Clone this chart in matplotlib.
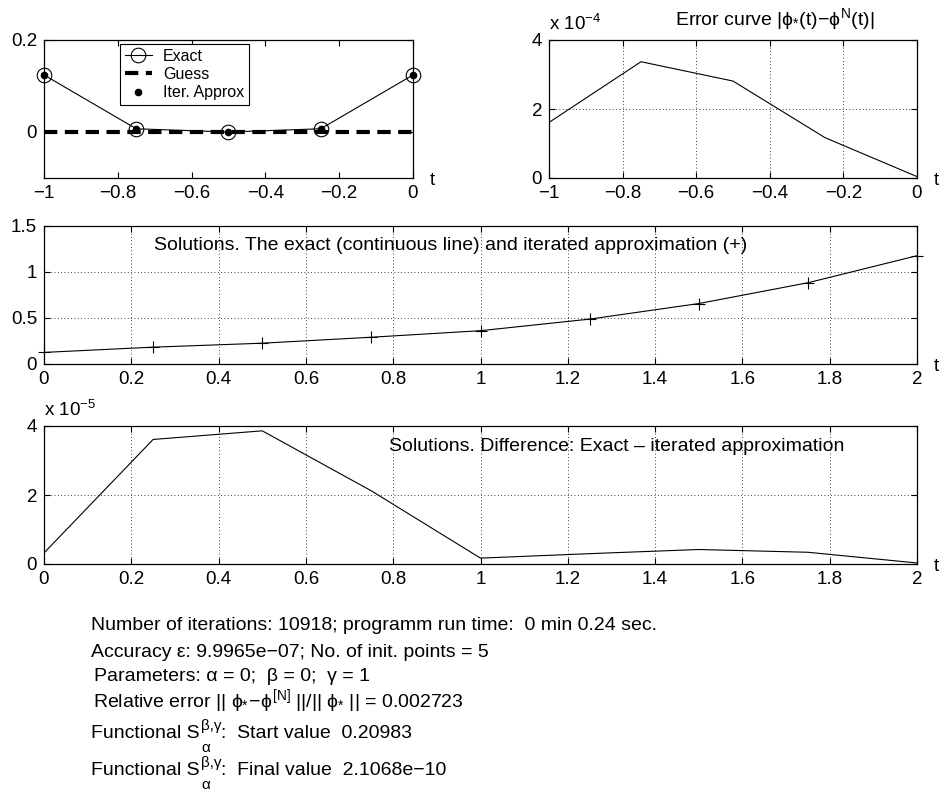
import matplotlib
matplotlib.use('Agg')
import matplotlib.pyplot as plt
import numpy as np

plt.rcParams['font.family'] = ['Liberation Sans', 'DejaVu Sans']
plt.rcParams['font.size'] = 13.5
plt.rcParams['mathtext.fontset'] = 'custom'
plt.rcParams['mathtext.rm'] = 'Liberation Sans'
plt.rcParams['mathtext.it'] = 'Liberation Sans'
plt.rcParams['mathtext.bf'] = 'Liberation Sans:bold'
plt.rcParams['mathtext.fallback'] = 'stixsans'
plt.rcParams['axes.unicode_minus'] = True

# --- data ---
t_left = [-1.0, -0.75, -0.5, -0.25, 0.0]
exact_left = [0.124, 0.007, 0.0, 0.007, 0.124]
guess_left = [0.0, 0.0, 0.0, 0.0, 0.0]
approx_left = [0.124, 0.007, 0.0, 0.007, 0.124]

err_left = [1.61, 3.37, 2.81, 1.17, 0.04]   # x 1e-4

t_sol = [0.0, 0.25, 0.5, 0.75, 1.0, 1.25, 1.5, 1.75, 2.0]
exact_sol = [0.126, 0.183, 0.226, 0.291, 0.362, 0.488, 0.657, 0.883, 1.177]
approx_sol = [0.126, 0.183, 0.226, 0.291, 0.362, 0.488, 0.657, 0.883, 1.177]
diff_sol = [0.32, 3.61, 3.86, 2.12, 0.17, 0.30, 0.42, 0.34, 0.03]   # x 1e-5

info_lines = [
	'Number of iterations: 10918; programm run time:  0 min 0.24 sec.',
	'Accuracy \u03b5: 9.9965e\u221207; No. of init. points = 5',
	'Parameters: \u03b1 = 0;  \u03b2 = 0;  \u03b3 = 1',
	r'Relative error || $\phi_{*}\!-\!\phi^{[\mathrm{N}]}$ ||/|| $\phi_{*}$ || = 0.002723',
]
info_x = [91, 91, 94, 93]
info_y = [630, 657, 681, 707]

func_tails = [':  Start value  0.20983', ':  Final value  2.1068e\u221210']
func_y = [738, 775]

W, H = 945, 795
fig = plt.figure(figsize=(W / 100.0, H / 100.0), dpi=100)


def px_axes(l, t, r, b):
	ax = fig.add_axes([l / W, 1 - b / H, (r - l) / W, (b - t) / H])
	ax.tick_params(direction='in', top=True, right=True, length=4, width=0.8, pad=5)
	for s in ax.spines.values():
		s.set_linewidth(0.9)
	return ax


def t_label(ax):
	ax.annotate('t', xy=(1, 0), xycoords='axes fraction', xytext=(14, -2),
		textcoords='offset points', va='center', ha='center')


def grid_dotted(ax):
	ax.grid(True, color='black', linestyle=(0, (1, 3)), linewidth=0.6)


# top left
ax1 = px_axes(44, 40, 413, 178)
ax1.plot(t_left, exact_left, color='black', linewidth=0.8, marker='o', markersize=10.5,
	fillstyle='none', markeredgewidth=0.8, label='Exact', clip_on=False)
ax1.plot(t_left, guess_left, color='black', linewidth=3, dashes=(3.2, 1.8), label='Guess')
ax1.plot(t_left, approx_left, 'k.', markersize=9, label='Iter. Approx', clip_on=False)
ax1.set_xlim(-1, 0)
ax1.set_ylim(-0.1, 0.2)
ax1.set_xticks([-1, -0.8, -0.6, -0.4, -0.2, 0])
ax1.set_xticklabels(['\u22121', '\u22120.8', '\u22120.6', '\u22120.4', '\u22120.2', '0'])
ax1.set_yticks([0, 0.2])
ax1.set_yticklabels(['0', '0.2'])
leg = ax1.legend(loc='upper left', bbox_to_anchor=(76 / 369.0, 1 - 4 / 138.0), fontsize=11.5,
	frameon=True, fancybox=False, edgecolor='black', framealpha=1, borderaxespad=0,
	borderpad=0.3, labelspacing=0.2, handlelength=1.7, handletextpad=0.7)
leg.get_frame().set_linewidth(0.8)
t_label(ax1)

# top right
ax2 = px_axes(549, 40, 917, 178)
ax2.plot(t_left, err_left, color='black', linewidth=0.8)
ax2.set_xlim(-1, 0)
ax2.set_ylim(0, 4)
ax2.set_xticks([-1, -0.8, -0.6, -0.4, -0.2, 0])
ax2.set_xticklabels(['\u22121', '\u22120.8', '\u22120.6', '\u22120.4', '\u22120.2', '0'])
ax2.set_yticks([0, 2, 4])
grid_dotted(ax2)
ax2.text(0, 1 + 10 / 138.0, r'x 10$^{-4}$', transform=ax2.transAxes, va='baseline', ha='left')
fig.text(675 / W, 1 - 25 / H, r'Error curve |$\phi_{*}$(t)$-\phi^{\mathrm{N}}$(t)|',
	va='baseline', ha='left', fontsize=14)
t_label(ax2)

# middle
ax3 = px_axes(44, 226, 917, 364)
ax3.plot(t_sol, exact_sol, color='black', linewidth=0.8)
ax3.plot(t_sol, approx_sol, 'k+', markersize=8, markeredgewidth=0.8, clip_on=False)
ax3.set_xlim(0, 2)
ax3.set_ylim(0, 1.5)
ax3.set_xticks(np.arange(0, 2.01, 0.2))
ax3.set_xticklabels(['0', '0.2', '0.4', '0.6', '0.8', '1', '1.2', '1.4', '1.6', '1.8', '2'])
ax3.set_yticks([0, 0.5, 1, 1.5])
ax3.set_yticklabels(['0', '0.5', '1', '1.5'])
grid_dotted(ax3)
ax3.text(0.253 / 2, 1.285, 'Solutions. The exact (continuous line) and iterated approximation (+)',
	transform=ax3.get_yaxis_transform(), va='center', ha='left', fontsize=14)
t_label(ax3)

# bottom
ax4 = px_axes(44, 426, 917, 564)
ax4.plot(t_sol, diff_sol, color='black', linewidth=0.8)
ax4.set_xlim(0, 2)
ax4.set_ylim(0, 4)
ax4.set_xticks(np.arange(0, 2.01, 0.2))
ax4.set_xticklabels(['0', '0.2', '0.4', '0.6', '0.8', '1', '1.2', '1.4', '1.6', '1.8', '2'])
ax4.set_yticks([0, 2, 4])
grid_dotted(ax4)
ax4.text(0, 1 + 10 / 138.0, r'x 10$^{-5}$', transform=ax4.transAxes, va='baseline', ha='left')
ax4.text(0.79 / 2, 3.42, 'Solutions. Difference: Exact \u2013 iterated approximation',
	transform=ax4.get_yaxis_transform(), va='center', ha='left', fontsize=14)
t_label(ax4)

# info text block
for txt, x, y in zip(info_lines, info_x, info_y):
	fig.text(x / W, 1 - y / H, txt, va='baseline', ha='left', fontsize=14)

# functional lines: S with stacked beta,gamma / alpha
renderer = fig.canvas.get_renderer()
for tail, y in zip(func_tails, func_y):
	head = fig.text(91 / W, 1 - y / H, 'Functional S', va='baseline', ha='left', fontsize=14)
	x1 = head.get_window_extent(renderer).x1 + 1
	sup = fig.text(x1 / W, 1 - (y - 8) / H, '\u03b2,\u03b3', va='baseline', ha='left', fontsize=11)
	fig.text((x1 + 1) / W, 1 - (y + 14) / H, '\u03b1', va='baseline', ha='left', fontsize=11)
	x2 = sup.get_window_extent(renderer).x1
	fig.text(x2 / W, 1 - y / H, tail, va='baseline', ha='left', fontsize=14)

plt.savefig('out.png', dpi=100)
